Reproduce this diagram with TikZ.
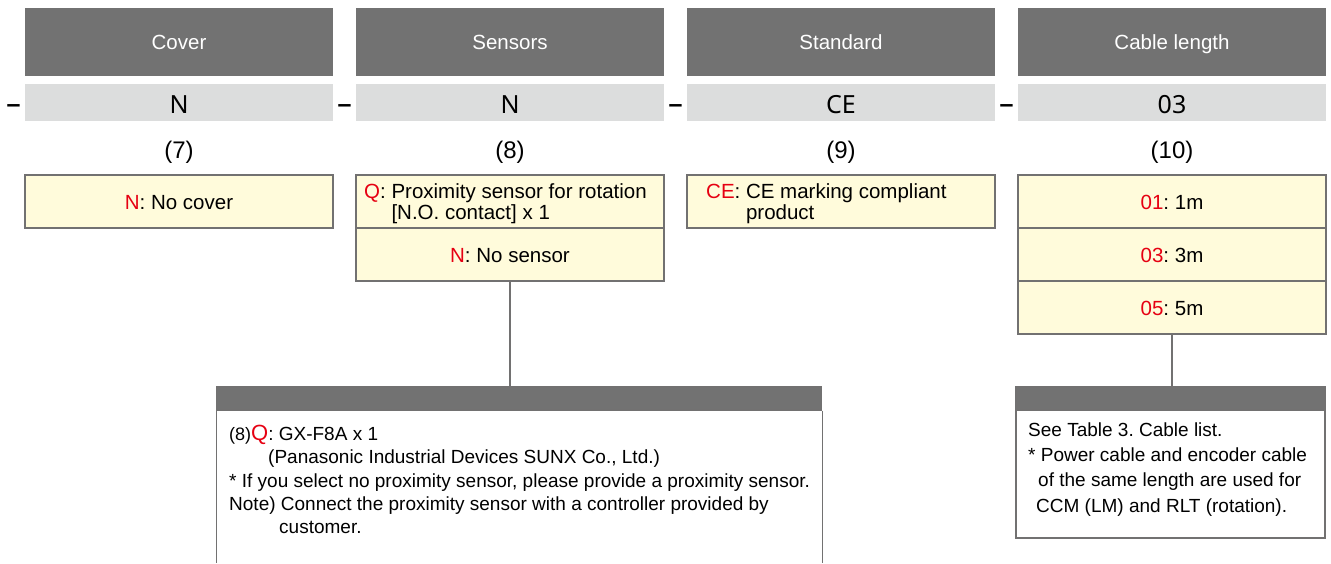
\documentclass[tikz,border=0pt]{standalone}
\usepackage{fontspec}
\setmainfont{Liberation Sans}
\newfontfamily\codefont{Noto Sans}
\definecolor{headgray}{HTML}{727272}
\definecolor{codegray}{HTML}{DCDDDD}
\definecolor{optfill}{HTML}{FFFBDB}
\definecolor{edgegray}{HTML}{727171}
\definecolor{markred}{HTML}{E60012}
\newcommand{\mk}[1]{\textcolor{markred}{#1}}
\frenchspacing
\begin{document}
\begin{tikzpicture}[x=1pt,y=-1pt,
  headbox/.style={fill=headgray, text=white, minimum width=308pt, minimum height=68pt,
    inner sep=0pt, font=\fontsize{20.5}{20.5}\selectfont, text height=15pt, text depth=0pt},
  codebox/.style={fill=codegray, minimum width=308pt, minimum height=37pt, inner sep=0pt,
    font=\codefont\fontsize{25}{25}\selectfont, text height=21pt, text depth=0pt},
  sepdash/.style={inner sep=0pt, anchor=base, font=\bfseries\fontsize{25}{25}\selectfont},
  numtext/.style={inner sep=0pt, anchor=base, font=\fontsize{24}{24}\selectfont},
  optcell/.style={draw=edgegray, line width=1.2pt, fill=optfill, minimum width=308pt,
    minimum height=53pt, inner sep=0pt, font=\fontsize{20.5}{21}\selectfont,
    text height=15.5pt, text depth=0pt},
  opttext/.style={inner sep=0pt, anchor=base west, font=\fontsize{20.5}{21}\selectfont},
  notehead/.style={fill=headgray, draw=edgegray, line width=1.2pt, inner sep=0pt, minimum height=23pt},
  noteedge/.style={draw=edgegray, line width=1.2pt},
  notetext/.style={inner sep=0pt, anchor=base west, font=\fontsize{19}{19}\selectfont},
  link/.style={draw=edgegray, line width=1.5pt}]
\useasboundingbox (0,0) rectangle (1331,563);

% column headers
\node[headbox] (h7)  at (179,42)  {Cover};
\node[headbox] (h8)  at (510,42)  {Sensors};
\node[headbox] (h9)  at (841,42)  {Standard};
\node[headbox] (h10) at (1172,42) {Cable length};

% code row with separators
\node[codebox] (c7)  at (179,102.5)  {N};
\node[codebox] (c8)  at (510,102.5)  {N};
\node[codebox] (c9)  at (841,102.5)  {CE};
\node[codebox] (c10) at (1172,102.5) {03};
\node[sepdash] (d1) at (13.5,112.6)   {–};
\node[sepdash] (d2) at (344.5,112.6)  {–};
\node[sepdash] (d3) at (675.5,112.6)  {–};
\node[sepdash] (d4) at (1006.5,112.6) {–};

% item numbers
\node[numtext] (n7)  at (179,158)  {(7)};
\node[numtext] (n8)  at (510,158)  {(8)};
\node[numtext] (n9)  at (841,158)  {(9)};
\node[numtext] (n10) at (1172,158) {(10)};

% option tables
\node[optcell] (o7) at (179,201.5) {\mk{N}: No cover};

\node[optcell] (o8q) at (510,201.5) {};
\node[opttext] (o8qt) at (364,198.3) {\begin{tabular}[t]{@{}l@{}l@{}}\mk{Q}: & \kern0.278em Proximity sensor for rotation\\ & \kern0.278em[N.O. contact] x 1\end{tabular}};
\node[optcell] (o8n) at (510,254.5) {\mk{N}: No sensor};

\node[optcell] (o9) at (841,201.5) {};
\node[opttext] (o9t) at (706,198.3) {\begin{tabular}[t]{@{}l@{}l@{}}\mk{CE}: & \kern0.278em CE marking compliant\\ & \kern0.278em product\end{tabular}};

\node[optcell] (o10a) at (1172,201.5) {\mk{01}: 1m};
\node[optcell] (o10b) at (1172,254.5) {\mk{03}: 3m};
\node[optcell] (o10c) at (1172,307.5) {\mk{05}: 5m};

% sensor note
\node[notehead, minimum width=605pt] (s8h) at (519.2,398.5) {};
\draw[noteedge] (s8h.south west) -- (s8h.south west |- 0,563);
\draw[noteedge] (s8h.south east) -- (s8h.south east |- 0,563);
\node[notetext] (s8l1) at (229,440) {{\fontsize{18}{18}\selectfont(8)}\mk{\fontsize{22}{22}\selectfont Q}: GX-F8A x 1};
\node[notetext] (s8l2) at (268,463.5) {(Panasonic Industrial Devices SUNX Co., Ltd.)};
\node[notetext] (s8l3) at (229,487) {* If you select no proximity sensor, please provide a proximity sensor.};
\node[notetext] (s8l4) at (229,510) {Note) Connect the proximity sensor with a controller provided by};
\node[notetext] (s8l5) at (279,533.5) {customer.};
\draw[link] (o8n.south) -- (o8n.south |- s8h.north);

% cable note
\node[notehead, minimum width=309pt] (c10h) at (1170.5,398.5) {};
\node[draw=edgegray, line width=1.2pt, fill=white, minimum width=309pt, minimum height=128pt, inner sep=0pt] (c10b) at (1170.5,474) {};
\node[notetext] (c10l1) at (1028,436) {See Table 3. Cable list.};
\node[notetext] (c10l2) at (1028,461.7) {* Power cable and encoder cable};
\node[notetext] (c10l3) at (1038,486.7) {of the same length are used for};
\node[notetext] (c10l4) at (1036,512.7) {CCM (LM) and RLT (rotation).};
\draw[link] (o10c.south) -- (o10c.south |- c10h.north);
\end{tikzpicture}
\end{document}
